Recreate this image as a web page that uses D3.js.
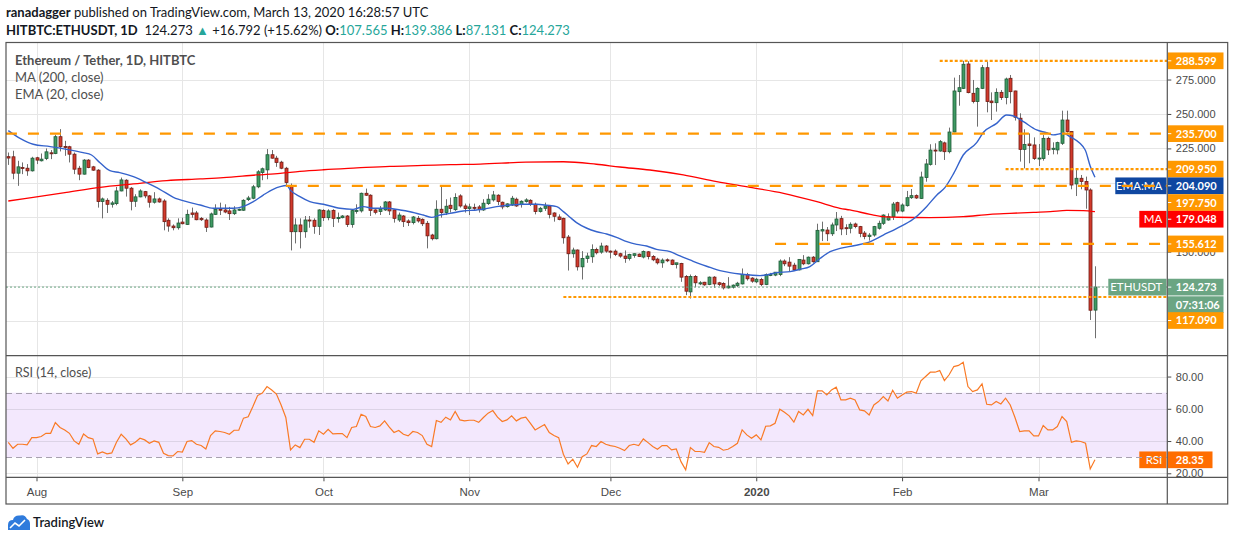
<!DOCTYPE html>
<html>
<head>
<meta charset="utf-8">
<script src="https://cdn.jsdelivr.net/npm/d3@7"></script>
<style>
  body { margin: 0; background: #fff; }
  svg { display: block; font-family: Lato, "Liberation Sans", sans-serif; }
</style>
</head>
<body>
<script>
// ETH/USDT daily candles, 2019-07-26 .. 2020-03-13
const firstDay = Date.UTC(2019, 6, 26);

const opens = [
  219.0, 218.9, 207.0, 211.1, 210.6, 208.7, 218.2, 216.0, 217.7, 221.8,
  221.3, 233.5, 226.4, 226.2, 220.8, 210.6, 206.3, 216.5, 211.6, 209.2,
  186.4, 187.3, 184.4, 184.9, 194.1, 201.9, 196.1, 186.6, 189.8, 193.6,
  190.5, 185.9, 188.3, 186.8, 172.8, 168.6, 167.4, 171.5, 169.8, 178.1,
  178.1, 174.2, 173.0, 167.9, 177.1, 180.8, 180.3, 179.6, 177.6, 180.3,
  180.1, 187.8, 188.8, 197.1, 207.5, 209.4, 220.4, 217.9, 215.0, 210.6,
  197.8, 164.5, 169.4, 164.5, 173.0, 172.8, 168.4, 180.0, 174.7, 180.0,
  174.0, 174.7, 175.9, 169.8, 179.1, 179.6, 192.4, 191.0, 180.3, 179.1,
  180.3, 186.1, 180.3, 173.0, 175.9, 172.3, 171.1, 174.2, 173.5, 170.6,
  162.1, 159.4, 180.8, 178.4, 183.7, 180.5, 190.5, 183.2, 181.3, 182.2,
  182.5, 180.3, 184.9, 187.6, 191.0, 185.9, 182.7, 183.9, 188.1, 184.2,
  186.4, 187.3, 184.4, 179.1, 181.5, 183.2, 178.1, 175.2, 174.2, 160.6,
  148.5, 151.2, 139.0, 145.1, 146.3, 151.6, 149.7, 154.1, 150.4, 150.4,
  148.5, 146.8, 145.1, 147.3, 148.2, 146.1, 149.9, 146.5, 144.6, 141.9,
  144.1, 143.9, 140.7, 141.4, 132.0, 120.8, 132.0, 126.6, 127.8, 126.2,
  131.5, 127.4, 126.9, 123.7, 124.2, 125.4, 126.6, 133.4, 130.8, 128.1,
  129.8, 126.2, 133.0, 133.0, 133.4, 143.2, 142.4, 140.2, 136.8, 143.9,
  141.2, 146.0, 142.7, 165.0, 165.7, 163.0, 169.4, 174.0, 167.4, 167.0,
  170.1, 168.2, 163.5, 161.0, 162.1, 167.0, 170.6, 173.0, 175.4, 185.6,
  179.5, 183.4, 189.2, 190.7, 188.7, 203.8, 213.4, 223.8, 223.1, 229.0,
  222.6, 236.9, 266.2, 268.6, 286.3, 265.0, 259.0, 268.6, 283.6, 259.4,
  258.2, 265.7, 261.9, 275.9, 266.7, 246.9, 224.3, 228.2, 227.5, 217.6,
  217.6, 232.3, 224.3, 223.9, 228.7, 245.6, 237.2, 199.2, 203.3, 200.9,
  194.8, 107.565
];
const highs = [
  222.0, 223.3, 216.0, 214.8, 213.6, 218.9, 218.9, 221.3, 225.0, 223.8,
  234.9, 239.0, 230.5, 226.9, 222.0, 212.3, 217.2, 217.2, 212.3, 209.9,
  189.3, 188.8, 186.8, 197.0, 203.8, 202.6, 197.0, 191.7, 195.3, 194.1,
  191.2, 193.2, 189.3, 188.1, 174.2, 169.8, 174.2, 174.7, 180.5, 182.0,
  179.6, 175.2, 174.2, 178.4, 184.4, 185.6, 184.4, 182.5, 183.0, 181.3,
  188.1, 190.5, 198.5, 209.2, 211.1, 224.5, 223.8, 219.6, 216.0, 211.6,
  199.5, 174.2, 174.2, 175.9, 175.9, 174.2, 180.8, 180.8, 180.8, 180.8,
  178.4, 176.6, 176.6, 180.8, 184.4, 192.9, 195.8, 191.7, 180.8, 183.2,
  186.8, 186.8, 180.8, 178.4, 176.6, 173.5, 175.9, 175.9, 174.2, 172.3,
  163.0, 187.3, 197.8, 188.1, 189.3, 192.4, 191.7, 184.9, 184.9, 184.9,
  183.9, 188.1, 191.7, 194.1, 191.7, 186.4, 185.2, 190.5, 189.3, 187.3,
  188.8, 188.1, 185.6, 182.5, 185.6, 183.7, 178.6, 177.1, 174.7, 162.1,
  152.9, 151.6, 150.4, 149.2, 155.3, 152.9, 156.5, 154.8, 150.9, 151.6,
  149.2, 150.9, 148.5, 148.7, 148.7, 150.9, 150.4, 147.5, 145.6, 145.1,
  145.1, 144.4, 141.9, 141.9, 133.0, 133.4, 133.0, 128.6, 128.1, 132.0,
  132.2, 128.1, 127.8, 131.5, 126.2, 128.1, 137.8, 134.6, 131.5, 131.0,
  131.0, 134.2, 134.6, 135.1, 144.4, 144.4, 146.0, 141.9, 144.4, 147.5,
  146.5, 146.8, 170.3, 171.8, 167.9, 171.1, 178.8, 176.0, 169.9, 171.3,
  171.1, 168.7, 165.0, 163.5, 168.7, 172.5, 177.1, 177.8, 186.1, 186.3,
  185.1, 194.1, 195.5, 191.6, 208.1, 217.3, 228.0, 228.7, 231.1, 229.9,
  240.1, 276.4, 278.3, 288.6, 288.3, 274.7, 269.4, 285.6, 288.0, 265.7,
  268.6, 267.4, 276.4, 278.3, 266.9, 250.5, 238.9, 235.9, 233.0, 228.2,
  234.7, 233.5, 229.4, 229.9, 252.4, 252.4, 237.4, 209.3, 205.7, 204.5,
  196.0, 139.386
];
const lows = [
  213.0, 202.6, 197.8, 206.3, 205.1, 208.2, 213.6, 215.5, 216.5, 217.2,
  220.8, 222.8, 219.6, 214.8, 206.3, 201.9, 206.0, 210.6, 208.7, 182.0,
  174.2, 178.1, 182.0, 183.7, 193.8, 190.0, 180.0, 182.5, 189.5, 188.8,
  182.0, 184.9, 185.6, 165.5, 164.5, 165.5, 166.0, 169.8, 169.4, 174.7,
  172.8, 172.3, 164.3, 167.6, 176.6, 176.6, 177.9, 173.0, 176.6, 179.6,
  179.6, 186.8, 188.1, 196.1, 201.9, 202.6, 217.6, 211.6, 209.9, 198.5,
  150.9, 156.0, 152.4, 160.1, 167.4, 163.0, 162.1, 172.3, 172.8, 167.9,
  171.1, 174.2, 167.9, 167.4, 177.6, 178.4, 190.5, 175.9, 177.1, 176.6,
  179.6, 176.6, 171.1, 171.6, 167.9, 168.6, 169.8, 171.1, 168.6, 152.4,
  158.2, 158.9, 174.7, 176.6, 178.4, 179.6, 182.0, 178.4, 176.6, 179.6,
  178.4, 179.6, 183.9, 186.4, 183.9, 180.8, 182.0, 183.2, 182.5, 182.0,
  185.6, 183.2, 177.1, 178.4, 179.6, 174.2, 171.8, 172.8, 155.8, 136.3,
  145.6, 136.3, 129.8, 141.9, 141.9, 148.0, 148.5, 149.2, 145.1, 146.8,
  145.6, 141.9, 143.6, 145.6, 146.1, 145.1, 144.4, 143.1, 140.7, 138.3,
  142.4, 140.2, 137.8, 128.1, 118.4, 116.0, 124.2, 125.7, 125.2, 125.7,
  123.7, 125.0, 122.5, 123.2, 123.2, 124.2, 126.2, 129.0, 127.4, 127.1,
  125.0, 125.7, 132.2, 132.2, 132.2, 139.5, 135.9, 135.9, 136.4, 140.2,
  140.7, 142.0, 142.5, 157.7, 157.7, 161.4, 165.0, 162.0, 162.1, 163.3,
  167.0, 160.5, 159.0, 158.0, 160.9, 166.0, 169.4, 172.5, 173.0, 177.8,
  178.6, 182.7, 188.3, 188.3, 188.3, 200.8, 212.5, 212.9, 222.6, 216.6,
  221.4, 236.7, 256.0, 268.1, 265.0, 257.7, 240.8, 268.1, 251.2, 245.6,
  251.7, 260.2, 257.0, 257.7, 245.2, 215.4, 210.5, 214.2, 216.6, 212.2,
  216.1, 220.2, 220.7, 220.7, 227.5, 236.4, 195.3, 190.4, 195.3, 181.2,
  100.4, 87.131
];
const closes = [
  218.0, 207.0, 211.6, 210.4, 208.7, 217.9, 216.5, 217.2, 222.5, 221.3,
  233.5, 226.2, 225.7, 220.8, 209.9, 206.3, 216.5, 211.1, 209.2, 186.4,
  188.3, 184.4, 185.4, 194.1, 202.1, 196.1, 186.6, 189.8, 194.1, 190.5,
  185.9, 188.3, 186.1, 171.8, 168.6, 167.4, 170.8, 170.3, 177.1, 177.1,
  173.2, 173.2, 167.7, 177.4, 180.8, 180.1, 178.8, 177.6, 180.3, 180.8,
  187.3, 189.0, 197.1, 208.0, 210.2, 220.4, 217.9, 214.8, 210.6, 200.2,
  164.5, 169.4, 164.5, 173.0, 172.3, 168.4, 180.3, 174.7, 179.6, 174.2,
  174.9, 175.9, 169.8, 179.8, 180.0, 192.4, 191.0, 180.0, 178.6, 181.0,
  186.1, 179.6, 174.2, 176.6, 171.8, 171.1, 175.2, 172.3, 170.3, 161.5,
  159.4, 180.8, 178.4, 183.0, 181.3, 189.3, 183.2, 181.3, 182.5, 181.8,
  180.8, 185.2, 188.1, 191.2, 186.4, 182.5, 184.7, 188.8, 183.2, 186.6,
  187.6, 184.4, 179.1, 181.5, 183.2, 177.1, 175.7, 173.3, 160.1, 148.5,
  151.2, 139.0, 145.1, 146.8, 151.6, 149.2, 154.1, 150.4, 149.7, 148.0,
  146.8, 145.1, 148.0, 148.5, 146.5, 150.2, 146.5, 144.1, 141.9, 143.9,
  143.4, 140.7, 141.9, 131.5, 121.3, 132.0, 127.4, 127.4, 125.9, 131.5,
  126.6, 126.2, 123.7, 125.0, 125.7, 127.1, 133.4, 130.3, 128.6, 130.0,
  126.2, 133.4, 133.4, 135.1, 143.2, 141.2, 139.5, 136.8, 144.4, 141.2,
  146.0, 142.7, 165.5, 166.0, 163.0, 169.4, 173.7, 166.5, 167.0, 169.9,
  168.2, 163.3, 161.0, 162.0, 168.2, 170.6, 176.6, 175.4, 184.6, 179.5,
  183.9, 189.2, 190.7, 189.0, 204.2, 213.7, 223.8, 223.1, 229.9, 222.6,
  236.9, 266.7, 269.1, 286.1, 265.5, 259.0, 268.6, 283.6, 259.0, 258.2,
  265.7, 261.9, 275.4, 266.2, 247.6, 224.3, 227.9, 227.0, 217.6, 218.0,
  232.3, 223.9, 225.1, 229.2, 245.6, 237.2, 198.4, 203.3, 200.9, 194.8,
  107.481, 124.273
];

// RSI(14) per candle
const rsiVals = [
  39.2, 35.5, 38.0, 38.0, 37.6, 42.1, 42.1, 42.8, 44.8, 44.8,
  51.5, 48.4, 46.9, 44.8, 40.1, 38.0, 44.4, 42.1, 41.3, 32.0,
  33.2, 32.0, 32.6, 39.2, 44.2, 41.3, 37.6, 39.2, 41.7, 40.7,
  38.6, 40.1, 39.2, 32.4, 31.0, 30.8, 33.5, 33.2, 39.7, 40.3,
  38.0, 37.2, 35.1, 43.4, 46.3, 45.9, 45.3, 44.2, 46.7, 46.7,
  54.2, 55.0, 61.4, 68.2, 69.7, 73.8, 71.7, 69.1, 62.4, 54.6,
  34.5, 37.6, 35.9, 41.1, 41.1, 39.2, 46.3, 44.2, 47.3, 44.4,
  44.6, 44.6, 42.1, 48.4, 49.0, 56.6, 55.2, 49.0, 48.4, 49.4,
  52.5, 48.6, 45.3, 46.5, 44.2, 43.2, 45.9, 45.3, 43.4, 38.0,
  36.6, 52.7, 51.6, 54.8, 53.1, 58.3, 53.1, 52.5, 52.9, 52.9,
  51.6, 54.6, 57.3, 58.9, 54.8, 52.1, 53.1, 55.6, 52.5, 54.2,
  54.8, 51.0, 46.9, 48.6, 50.2, 45.3, 43.4, 42.1, 31.8, 25.8,
  28.7, 23.7, 30.3, 32.0, 37.2, 36.6, 39.7, 38.0, 37.2, 36.6,
  35.5, 34.1, 37.2, 38.0, 37.2, 41.3, 39.0, 36.6, 34.9, 37.2,
  37.2, 34.5, 35.1, 27.2, 22.1, 35.9, 33.5, 33.5, 33.0, 39.0,
  36.6, 36.1, 34.3, 34.9, 36.6, 38.6, 46.9, 43.8, 41.7, 43.8,
  40.7, 49.2, 49.4, 51.0, 59.7, 57.9, 55.6, 51.7, 58.3, 56.2,
  59.7, 55.8, 71.1, 71.1, 68.6, 71.7, 73.4, 65.5, 65.5, 66.6,
  65.5, 59.3, 58.7, 56.2, 62.4, 64.5, 67.6, 64.9, 71.5, 66.6,
  68.6, 70.3, 70.7, 69.7, 77.3, 80.0, 82.7, 82.7, 83.7, 77.5,
  81.1, 86.2, 86.9, 88.9, 73.8, 70.7, 71.7, 75.5, 62.8, 62.4,
  64.5, 63.0, 66.6, 62.4, 54.6, 45.9, 46.3, 46.3, 43.2, 43.2,
  49.6, 46.9, 46.9, 49.0, 55.2, 52.1, 39.2, 40.1, 39.7, 38.6,
  22.7, 28.35
];

// EMA(20) and MA(200) read at candle positions (fractional candle index)
const emaAt = [0, 2.5, 5.3, 8.9, 12.4, 15.9, 17.7, 19.5, 21.6, 23.7,
  26.6, 29.4, 32.2, 35.1, 37.9, 40.8, 43.6, 45.7, 47.8, 49.9,
  52.1, 54.2, 56.3, 57.8, 59.2, 60, 62, 64.1, 67, 70.5,
  73.3, 75.5, 77.6, 80.4, 83.3, 85.4, 88.2, 90, 91.8, 93.9,
  96.7, 99.6, 100.9, 103.8, 106.7, 109.5, 112.3, 114.5, 116.6, 118,
  119.4, 120.8, 123, 125.1, 127.2, 129.3, 131.5, 133.6, 135.7, 137.8,
  140.7, 142.8, 144.9, 147, 149.2, 151.3, 153.4, 155.5, 157.7, 159.8,
  161.2, 163.3, 166.2, 168.3, 170.4, 172.6, 174.7, 176.8, 180, 183,
  186, 188.9, 192.4, 195.2, 197.4, 199.1, 201, 203, 205.9, 207.3,
  210.1, 212.2, 213.7, 215.8, 218.6, 220.7, 222.1, 224.3, 225.7, 228.9,
  230, 231];
const emaVals = [237.9, 232.3, 228.0, 226.3, 224.3, 221.9, 220.2, 214.6, 208.8, 207.4,
  204.5, 200.1, 195.3, 189.5, 186.3, 183.9, 181.5, 181.5, 181.5, 182.7,
  186.3, 191.1, 195.3, 197.2, 198.0, 194.5, 189.9, 186.3, 184.4, 181.5,
  180.7, 182.7, 181.5, 181.5, 180.3, 179.0, 176.6, 174.9, 176.6, 177.8,
  179.5, 180.3, 180.8, 182.7, 183.9, 184.4, 184.4, 183.7, 182.7, 179.1,
  175.0, 171.1, 167.0, 164.5, 162.8, 160.4, 157.3, 155.3, 154.1, 151.7,
  150.0, 146.9, 144.0, 141.1, 138.6, 136.2, 134.8, 133.8, 133.1, 132.6,
  133.1, 134.8, 135.5, 137.2, 139.1, 145.2, 150.0, 152.4, 154.5, 157.0,
  162.1, 167.0, 173.7, 182.7, 191.2, 196.5, 207.0, 220.2, 229.4, 236.7,
  243.2, 249.3, 248.5, 244.4, 238.4, 236.4, 234.8, 236.0, 233.5, 224.0,
  212.0, 204.09];

const maAt = [0, 5.3, 12.4, 19.5, 26.6, 33.7, 40.8, 45.7, 52.8, 57.8,
  62, 67, 74.1, 81.1, 88.2, 93.9, 100.3, 110, 118, 125,
  130, 136.4, 143.5, 150.6, 157.7, 164.8, 171.9, 176.8, 178.9, 183.2,
  186, 188.9, 195.9, 203, 208.7, 212.9, 217.9, 221.5, 225, 228.5, 231];
const maVals = [186.8, 189.5, 193.1, 196.7, 199.2, 201.6, 202.8, 203.7, 205.7, 206.9,
  208.3, 209.5, 210.8, 212.0, 212.6, 213.2, 213.6, 215.0, 215.3, 213.5,
  211.5, 209.3, 205.7, 200.9, 196.7, 192.4, 186.3, 181.5, 180.3, 177.1,
  175.4, 175.0, 174.7, 175.4, 177.1, 177.8, 178.6, 179.1, 180.0, 179.8, 179.048];

// horizontal levels drawn by the author, and the candle they start at
const levelValues = [288.599, 235.700, 209.950, 197.750, 155.612, 117.090];
const levelStart  = [198, -0.5, 212, 59, 163, 118];

const monthTicks  = ["2019-08-01", "2019-09-01", "2019-10-01", "2019-11-01",
                     "2019-12-01", "2020-01-01", "2020-02-01", "2020-03-01"];
const monthLabels = ["Aug", "Sep", "Oct", "Nov", "Dec", "2020", "Feb", "Mar"];
const priceTicks  = [100, 125, 150, 175, 200, 225, 250, 275];
const rsiTicks    = [20, 40, 60, 80];
const countdown   = "07:31:06";

// ---------------------------------------------------------------
const W = 1234, H = 541;
const L = 6, R = 1167.3, RR = 1227.7;
const top1 = 42.5, bot1 = 355.6, bot2 = 477.3, bot3 = 504;

const svg = d3.select("body").append("svg").attr("width", W).attr("height", H);

const x = d3.scaleUtc()
  .domain([new Date(Date.UTC(2019, 7, 1)), new Date(Date.UTC(2020, 2, 1))])
  .range([36.5, 1038.5]);
const dayAt = i => new Date(firstDay + i * 864e5);
const y = d3.scaleLinear().domain([74.6, 301.9]).range([355.5, 42.5]);
const yR = d3.scaleLinear().domain([17.5, 93.0]).range([bot2, bot1]);

const defs = svg.append("defs");
defs.append("clipPath").attr("id", "clipMain")
  .append("rect").attr("x", L).attr("y", top1).attr("width", R - L).attr("height", bot1 - top1);
defs.append("clipPath").attr("id", "clipRsi")
  .append("rect").attr("x", L).attr("y", bot1).attr("width", R - L).attr("height", bot2 - bot1);
defs.append("clipPath").attr("id", "clipRsiAxis")
  .append("rect").attr("x", R).attr("y", bot1).attr("width", RR - R).attr("height", bot2 - bot1);

const grid = "#e6e6e6";
const monthDates = monthTicks.map(s => new Date(s + "T00:00:00Z"));

// gridlines
const g0 = svg.append("g");
g0.selectAll(".vg").data(monthDates).enter().append("line")
  .attr("x1", d => Math.round(x(d)) + 0.5).attr("x2", d => Math.round(x(d)) + 0.5)
  .attr("y1", top1).attr("y2", bot2).attr("stroke", grid);
g0.selectAll(".hg").data(priceTicks).enter().append("line")
  .attr("x1", L).attr("x2", R)
  .attr("y1", d => Math.round(y(d)) + 0.5).attr("y2", d => Math.round(y(d)) + 0.5)
  .attr("stroke", grid);

// RSI band + grid
svg.append("rect").attr("x", L).attr("width", R - L)
  .attr("y", yR(70)).attr("height", yR(30) - yR(70)).attr("fill", "#f3e8fd");
svg.append("g").selectAll("line").data(rsiTicks).enter().append("line")
  .attr("x1", L).attr("x2", R)
  .attr("y1", d => Math.round(yR(d)) + 0.5).attr("y2", d => Math.round(yR(d)) + 0.5)
  .attr("stroke", d => (d === 40 || d === 60) ? "#dcd3e6" : grid);

// ---- right side tags (stacked so they do not overlap)
const orange = "#ff9800";
const lastClose = closes[closes.length - 1];
const lastEma = emaVals[emaVals.length - 1];
const lastMa = maVals[maVals.length - 1];
const tags = levelValues.map(v => ({ v, fill: orange, h: 16.7 }));
tags.push({ v: lastEma, fill: "#0f47a1", h: 16.7, name: "EMA:MA", nameW: 52 });
tags.push({ v: lastMa, fill: "#ff0000", h: 16.7, name: "MA", nameW: 28 });
tags.push({ v: lastClose, fill: "#6ba583", h: 33.4, name: "ETHUSDT", nameW: 59, sub: countdown });
tags.sort((a, b) => y(a.v) - y(b.v));
let prevBottom = -1e9;
tags.forEach(t => {
  const topY = Math.max(y(t.v) - 8.35, prevBottom);
  t.yc = topY + 8.35;
  prevBottom = topY + t.h;
});
// a tick label is hidden when a tag sits right on it
const covered = v => tags.some(t => {
  const ty = y(v);
  return ty > t.yc - 8.35 - 2 && ty < t.yc - 8.35 + t.h + 2 && Math.abs(ty - (t.yc - 8.35 + t.h / 2)) < t.h / 2 - 1;
});

// ---- axes text
const axisColor = "#4a4a4a";
const pAxis = svg.append("g").attr("transform", `translate(${R},0)`)
  .call(d3.axisRight(y).tickValues(priceTicks.filter(v => !covered(v)))
    .tickFormat(d3.format(".3f")).tickSize(4).tickPadding(4.5));
pAxis.select(".domain").remove();
pAxis.selectAll("line").attr("stroke", axisColor);
pAxis.selectAll("text").attr("fill", axisColor).style("font-size", "11px").attr("font-family", null);

const rAxis = svg.append("g").attr("clip-path", "url(#clipRsiAxis)")
  .append("g").attr("transform", `translate(${R},0)`)
  .call(d3.axisRight(yR).tickValues(rsiTicks).tickFormat(d3.format(".2f")).tickSize(4).tickPadding(4.5));
rAxis.select(".domain").remove();
rAxis.selectAll("line").attr("stroke", axisColor);
rAxis.selectAll("text").attr("fill", axisColor).style("font-size", "11px").attr("font-family", null);

const tAxis = svg.append("g").attr("transform", `translate(0,${bot2})`)
  .call(d3.axisBottom(x).tickValues(monthDates).tickFormat((d, i) => monthLabels[i]).tickSize(4).tickPadding(6.5));
tAxis.select(".domain").remove();
tAxis.selectAll("line").attr("stroke", axisColor);
tAxis.selectAll("text").attr("fill", axisColor).style("font-size", "11.5px").attr("font-family", null)
  .style("font-weight", (d, i) => monthLabels[i] === "2020" ? "700" : "400");

// ---- candles
const candles = opens.map((o, i) => ({ i, o, h: highs[i], l: lows[i], c: closes[i] }));
const gc = svg.append("g").attr("clip-path", "url(#clipMain)");
const up = d => d.c >= d.o;
gc.selectAll(".wick").data(candles).enter().append("line")
  .attr("x1", d => Math.round(x(dayAt(d.i))) + 0.5).attr("x2", d => Math.round(x(dayAt(d.i))) + 0.5)
  .attr("y1", d => y(d.h)).attr("y2", d => y(d.l))
  .attr("stroke", "#6f6f6f").attr("stroke-width", 1);
gc.selectAll(".body").data(candles).enter().append("rect")
  .attr("x", d => Math.round(x(dayAt(d.i))) - 1)
  .attr("width", 3)
  .attr("y", d => y(Math.max(d.o, d.c)))
  .attr("height", d => Math.max(1, Math.abs(y(d.o) - y(d.c))))
  .attr("fill", d => up(d) ? "#3f9a63" : "#d23a2c")
  .attr("stroke", d => up(d) ? "#1f5a37" : "#6e1c14")
  .attr("stroke-width", 0.8);

// moving averages
const lineGen = d3.line().x(d => x(dayAt(d[0]))).y(d => y(d[1])).curve(d3.curveMonotoneX);
gc.append("path").datum(d3.zip(maAt, maVals)).attr("d", lineGen)
  .attr("fill", "none").attr("stroke", "#ff0000").attr("stroke-width", 1.3);
gc.append("path").datum(d3.zip(emaAt, emaVals)).attr("d", lineGen)
  .attr("fill", "none").attr("stroke", "#3563cc").attr("stroke-width", 1.4);

const gTagNames = svg.append("g");
tags.filter(t => t.name && t.name !== "ETHUSDT").forEach(t => {
  gTagNames.append("rect").attr("x", R - t.nameW).attr("y", t.yc - 8.35)
    .attr("width", t.nameW - 0.8).attr("height", 16.7).attr("fill", t.fill);
  gTagNames.append("text").attr("x", R - 5).attr("y", t.yc + 4)
    .attr("text-anchor", "end").attr("fill", "#fff").style("font-size", "11.5px")
    .text(t.name);
});

// RSI tag name box (under the dashed 30 line)
const rsiLast = rsiVals[rsiVals.length - 1];
svg.append("rect").attr("x", R - 28).attr("y", yR(rsiLast) - 8.35).attr("width", 27.2).attr("height", 16.7).attr("fill", "#ff6d00");
svg.append("text").attr("x", R - 5).attr("y", yR(rsiLast) + 4).attr("text-anchor", "end")
  .attr("fill", "#fff").style("font-size", "11.5px").text("RSI");

// ---- level lines
const dotted = new Set([288.599, 209.950, 117.090]);
const gl = svg.append("g").attr("clip-path", "url(#clipMain)");
// current price line
gl.append("line").attr("x1", L).attr("x2", R)
  .attr("y1", y(lastClose)).attr("y2", y(lastClose))
  .attr("stroke", "#6ba583").attr("stroke-width", 1).attr("stroke-dasharray", "2,2");
levelValues.forEach((v, k) => {
  gl.append("line")
    .attr("x1", x(dayAt(levelStart[k]))).attr("x2", R)
    .attr("y1", y(v)).attr("y2", y(v))
    .attr("stroke", orange).attr("stroke-width", 2.2)
    .attr("stroke-dasharray", dotted.has(v) ? "3,2" : "11,11");
});

// ---- RSI line
const gr = svg.append("g").attr("clip-path", "url(#clipRsi)");
[70, 30].forEach(v => {
  gr.append("line").attr("x1", L).attr("x2", R)
    .attr("y1", Math.round(yR(v)) + 0.5).attr("y2", Math.round(yR(v)) + 0.5)
    .attr("stroke", "#a8a1b0").attr("stroke-dasharray", "6,4");
});
gr.append("path").datum(rsiVals)
  .attr("d", d3.line().x((d, i) => x(dayAt(i))).y(d => yR(d)))
  .attr("fill", "none").attr("stroke", "#f97a26").attr("stroke-width", 1.2);

// ETHUSDT name box drawn above the price line
tags.filter(t => t.name === "ETHUSDT").forEach(t => {
  svg.append("rect").attr("x", R - t.nameW).attr("y", t.yc - 8.35)
    .attr("width", t.nameW - 0.8).attr("height", 16.7).attr("fill", t.fill);
  svg.append("text").attr("x", R - 5).attr("y", t.yc + 4).attr("text-anchor", "end")
    .attr("fill", "#fff").style("font-size", "11.5px").text(t.name);
});

// value boxes on the axis
const gTags = svg.append("g");
tags.forEach(t => {
  gTags.append("rect").attr("x", R + 0.7).attr("y", t.yc - 8.35)
    .attr("width", 55.5).attr("height", 16.7).attr("fill", t.fill);
  gTags.append("line").attr("x1", R).attr("x2", R + 4).attr("y1", t.yc).attr("y2", t.yc).attr("stroke", "#fff");
  gTags.append("text").attr("x", R + 8.5).attr("y", t.yc + 4)
    .attr("fill", "#fff").style("font-size", "11px").style("font-weight", "700")
    .text(d3.format(".3f")(t.v));
  if (t.sub) {
    gTags.append("rect").attr("x", R + 0.7).attr("y", t.yc + 9.2)
      .attr("width", 55.5).attr("height", 16.7).attr("fill", t.fill);
    gTags.append("text").attr("x", R + 8.5).attr("y", t.yc + 21.5)
      .attr("fill", "#fff").style("font-size", "11px").style("font-weight", "700").text(t.sub);
  }
});
gTags.append("rect").attr("x", R + 0.7).attr("y", yR(rsiLast) - 8.35)
  .attr("width", 44.5).attr("height", 16.7).attr("fill", "#ff6d00");
gTags.append("text").attr("x", R + 8.5).attr("y", yR(rsiLast) + 4)
  .attr("fill", "#fff").style("font-size", "11px").style("font-weight", "700")
  .text(d3.format(".2f")(rsiLast));

// ---- frame
const fr = svg.append("g").attr("stroke", "#555").attr("stroke-width", 1.2).attr("fill", "none");
fr.append("rect").attr("x", L).attr("y", top1).attr("width", RR - L).attr("height", bot3 - top1);
fr.append("line").attr("x1", L).attr("x2", RR).attr("y1", bot1).attr("y2", bot1);
fr.append("line").attr("x1", L).attr("x2", RR).attr("y1", bot2).attr("y2", bot2);
fr.append("line").attr("x1", R).attr("x2", R).attr("y1", top1).attr("y2", bot3);

// ---- legends
const leg = svg.append("g").attr("fill", "#4f4f4f").style("font-size", "13px");
leg.append("text").attr("x", 15).attr("y", 65).style("font-weight", "700").text("Ethereum / Tether, 1D, HITBTC");
leg.append("text").attr("x", 15).attr("y", 82).text("MA (200, close)");
leg.append("text").attr("x", 15).attr("y", 99).text("EMA (20, close)");
svg.append("text").attr("x", 15).attr("y", 377).attr("fill", "#4f4f4f").style("font-size", "12.5px").text("RSI (14, close)");

// ---- header
const teal = "#26a69a";
const h1 = svg.append("text").attr("x", 6).attr("y", 17).attr("fill", "#131722").style("font-size", "13px");
h1.append("tspan").style("font-weight", "700").text("ranadagger");
h1.append("tspan").text(" published on TradingView.com, March 13, 2020 16:28:57 UTC");
const h2 = svg.append("text").attr("x", 6).attr("y", 35).attr("fill", "#131722").style("font-size", "13px");
const prevClose = closes[closes.length - 2];
const chg = lastClose - prevClose;
h2.append("tspan").style("font-weight", "700").text("HITBTC:ETHUSDT, 1D");
h2.append("tspan").text("\u00a0 " + d3.format(".3f")(lastClose) + " ");
h2.append("tspan").attr("fill", teal).text("\u25B2");
h2.append("tspan").text(" +" + d3.format(".3f")(chg) + " (+" + d3.format(".2f")(chg / prevClose * 100) + "%) ");
[["O:", opens], ["H:", highs], ["L:", lows], ["C:", closes]].forEach(([k, arr], j) => {
  h2.append("tspan").style("font-weight", "700").text((j ? " " : "") + k);
  h2.append("tspan").attr("fill", teal).text(String(arr[arr.length - 1]));
});

// ---- TradingView logo
const logo = svg.append("g").attr("transform", "translate(8,514)");
logo.append("path").attr("fill", "#2f7bdc")
  .attr("d", "M0,16 L0,11 Q0,6 5,6 Q6,1 12,1.5 Q17,0 19,5 Q22,6 22,10 L22,16 Z");
logo.append("path").attr("fill", "none").attr("stroke", "#fff").attr("stroke-width", 1.6)
  .attr("d", "M2,14 L7,9 L11,12 L17,6");
svg.append("text").attr("x", 33).attr("y", 527).attr("fill", "#131722")
  .style("font-size", "13px").style("font-weight", "600").text("TradingView");
</script>
</body>
</html>
